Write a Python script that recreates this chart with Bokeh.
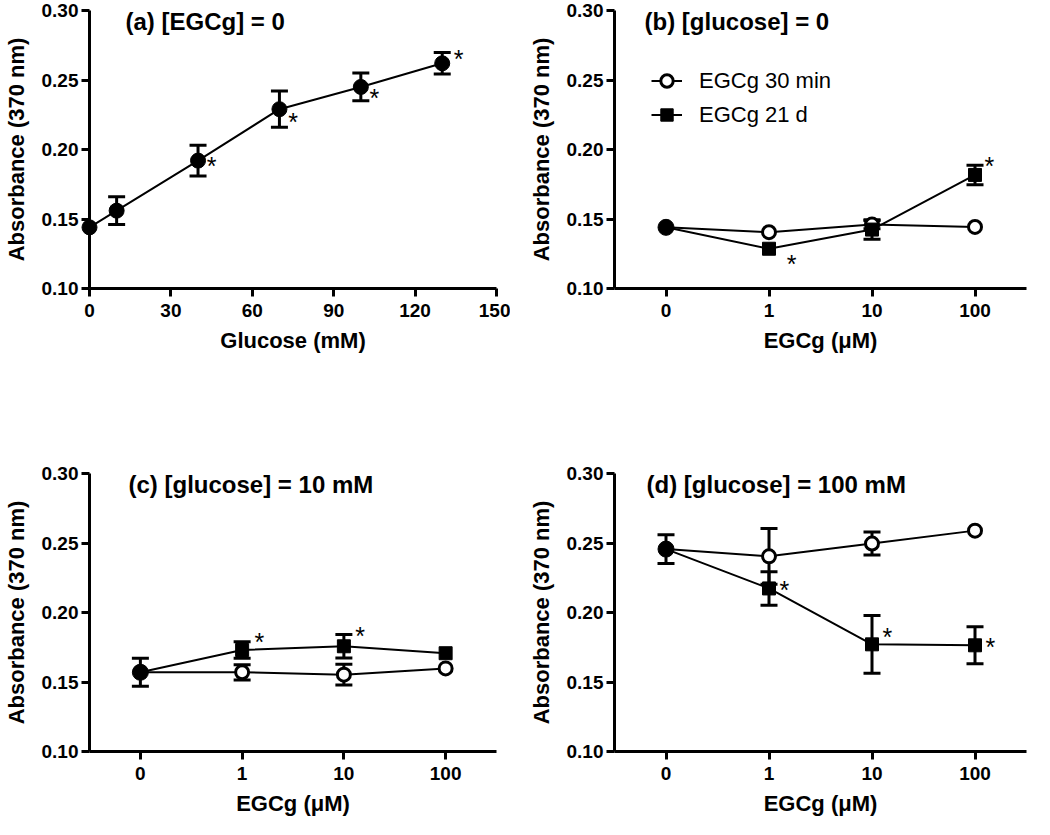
from bokeh.plotting import figure
from bokeh.layouts import column, row
from bokeh.models import (ColumnDataSource, Whisker, TeeHead, FixedTicker, Label,
                          Legend, LegendItem, Range1d, PrintfTickFormatter)
from bokeh.core.properties import value
from bokeh.embed import file_html
from bokeh.resources import INLINE

FONT = "Liberation Sans"

# ---------------- data ----------------
y_ticks = [0.10, 0.15, 0.20, 0.25, 0.30]

# Panel (a): [EGCg] = 0
glucose_mM = [0, 10, 40, 70, 100, 130]
glucose_ticks = [0, 30, 60, 90, 120, 150]
abs_a = [0.144, 0.156, 0.192, 0.229, 0.245, 0.262]
err_a = [0.0, 0.010, 0.011, 0.013, 0.010, 0.0077]
star_a_x = [45, 75, 105, 136]
star_a_y = [0.190, 0.222, 0.239, 0.267]

# EGCg categories (panels b-d)
egcg_labels = ["0", "1", "10", "100"]
egcg_pos = [0, 1, 2, 3]

# Panel (b): [glucose] = 0
b_30min = [0.144, 0.1405, 0.146, 0.1443]
b_30min_err = [0.0, 0.0, 0.003, 0.0]
b_21d = [0.144, 0.1286, 0.1424, 0.1817]
b_21d_err = [0.0, 0.0, 0.007, 0.007]
star_b_x = [1.22, 3.14]
star_b_y = [0.120, 0.190]

# Panel (c): [glucose] = 10 mM
c_30min = [0.157, 0.157, 0.1553, 0.1598]
c_30min_err = [0.010, 0.0055, 0.0075, 0.0]
c_21d = [0.157, 0.173, 0.1757, 0.1707]
c_21d_err = [0.010, 0.006, 0.0085, 0.0]
star_c_x = [1.17, 2.16]
star_c_y = [0.1806, 0.1853]

# Panel (d): [glucose] = 100 mM
d_30min = [0.2456, 0.2404, 0.2496, 0.2589]
d_30min_err = [0.0103, 0.020, 0.0083, 0.0]
d_21d = [0.2456, 0.2173, 0.1771, 0.1764]
d_21d_err = [0.0103, 0.012, 0.0208, 0.0133]
star_d_x = [1.15, 2.15, 3.15]
star_d_y = [0.2184, 0.1842, 0.1771]

titles = ["(a) [EGCg] = 0", "(b) [glucose] = 0",
          "(c) [glucose] = 10 mM", "(d) [glucose] = 100 mM"]
legend_labels = ["EGCg 30 min", "EGCg 21 d"]

TOP = 10
FRAME_H = 278


# ---------------- helpers ----------------
def make_fig(width, height, xr, bl, br, bb, xlabel):
    p = figure(width=width, height=height, x_range=xr, y_range=Range1d(0.10, 0.30),
               output_backend="svg", toolbar_location=None,
               min_border_left=bl, min_border_right=br, min_border_top=TOP,
               min_border_bottom=bb)
    p.outline_line_color = None
    p.xgrid.visible = False
    p.ygrid.visible = False
    p.yaxis.ticker = FixedTicker(ticks=y_ticks)
    p.yaxis.formatter = PrintfTickFormatter(format="%.2f")
    p.yaxis.axis_label = "Absorbance (370 nm)"
    p.xaxis.axis_label = xlabel
    for ax in list(p.xaxis) + list(p.yaxis):
        ax.axis_line_width = 3
        ax.major_tick_line_width = 3
        ax.major_tick_out = 8
        ax.major_tick_in = 0
        ax.minor_tick_line_color = None
        ax.major_label_text_font = FONT
        ax.major_label_text_font_size = "19px"
        ax.major_label_text_font_style = "bold"
        ax.major_label_text_color = "black"
        ax.axis_label_text_font = FONT
        ax.axis_label_text_font_size = "22px"
        ax.axis_label_text_font_style = "bold"
        ax.axis_label_text_color = "black"
    p.yaxis.major_label_standoff = 3
    p.yaxis.axis_label_standoff = 10
    p.xaxis.major_label_standoff = 7
    p.xaxis.axis_label_standoff = 8
    return p


def add_title(p, x0, text, dx):
    lab = Label(x=x0, y=0.30, x_offset=dx, y_offset=-11, text=text,
                text_font=FONT, text_font_size="24px", text_font_style="bold",
                text_baseline="middle", text_color="black")
    lab.level = "overlay"
    p.add_layout(lab)


def add_errors(p, xs, ys, errs):
    idx = [i for i, e in enumerate(errs) if e > 0]
    if not idx:
        return
    src = ColumnDataSource(dict(x=[xs[i] for i in idx],
                                lo=[ys[i] - errs[i] for i in idx],
                                hi=[ys[i] + errs[i] for i in idx]))
    p.add_layout(Whisker(source=src, base="x", lower="lo", upper="hi",
                         line_width=3, line_color="black",
                         upper_head=TeeHead(size=17, line_width=3, line_color="black"),
                         lower_head=TeeHead(size=17, line_width=3, line_color="black")))


def add_stars(p, sx, sy):
    p.text(x=sx, y=sy, text=["*"] * len(sx), text_font=value(FONT),
           text_font_size="25px", text_align="center", text_baseline="middle",
           text_color="black", y_offset=3)


# ---------------- panel (a) ----------------
W_L, W_R = 510, 524
H_T, H_B = 463, 356

pa = make_fig(W_L, H_T, Range1d(0, 150), 84, 14, H_T - TOP - FRAME_H, "Glucose (mM)")
pa.xaxis.ticker = FixedTicker(ticks=glucose_ticks)
add_errors(pa, glucose_mM, abs_a, err_a)
pa.line(glucose_mM, abs_a, line_width=2, line_color="black")
ra = pa.scatter(glucose_mM, abs_a, size=15, marker="circle", fill_color="black",
                line_color="black")
ra.level = "overlay"
add_stars(pa, star_a_x, star_a_y)
add_title(pa, 0, titles[0], 36)


# ---------------- panels (b)-(d) ----------------
def egcg_panel(width, height, bl, br, bb, s30, e30, s21, e21, stx, sty, title, dx,
               legend=False):
    p = make_fig(width, height, Range1d(-0.5, 3.5), bl, br, bb, "EGCg (\u03bcM)")
    p.xaxis.ticker = FixedTicker(ticks=egcg_pos)
    p.xaxis.major_label_overrides = {k: v for k, v in zip(egcg_pos, egcg_labels)}
    # error bars (control drawn once)
    add_errors(p, egcg_pos, s30, e30)
    add_errors(p, egcg_pos[1:], s21[1:], e21[1:])
    l30 = p.line(egcg_pos, s30, line_width=2, line_color="black")
    l21 = p.line(egcg_pos, s21, line_width=2, line_color="black")
    m30 = p.scatter(egcg_pos[1:], s30[1:], size=13, marker="circle", fill_color="white",
                    line_color="black", line_width=3)
    m21 = p.scatter(egcg_pos[1:], s21[1:], size=13, marker="square", fill_color="black",
                    line_color="black")
    mc = p.scatter(egcg_pos[:1], s30[:1], size=16, marker="circle", fill_color="black",
                   line_color="black")
    for r in (m30, m21, mc):
        r.level = "overlay"
    add_stars(p, stx, sty)
    add_title(p, -0.5, title, dx)
    if legend:
        lg = Legend(items=[LegendItem(label=legend_labels[0], renderers=[l30, m30]),
                           LegendItem(label=legend_labels[1], renderers=[l21, m21])],
                    location=(37, 158), padding=0, margin=0, spacing=3,
                    glyph_width=31, glyph_height=31, label_height=31,
                    label_standoff=17, label_text_font=FONT,
                    label_text_font_size="22px", label_text_color="black",
                    border_line_alpha=0, background_fill_alpha=0)
        p.add_layout(lg)
    return p


pb = egcg_panel(W_R, H_T, 104, 8, H_T - TOP - FRAME_H, b_30min, b_30min_err, b_21d,
                b_21d_err, star_b_x, star_b_y, titles[1], 30, legend=True)
pc = egcg_panel(W_L, H_B, 84, 14, H_B - TOP - FRAME_H, c_30min, c_30min_err, c_21d,
                c_21d_err, star_c_x, star_c_y, titles[2], 39)
pd = egcg_panel(W_R, H_B, 104, 8, H_B - TOP - FRAME_H, d_30min, d_30min_err, d_21d,
                d_21d_err, star_d_x, star_d_y, titles[3], 32)

layout = column(row(pa, pb, spacing=0), row(pc, pd, spacing=0), spacing=0)

open("out.html", "w").write(file_html(layout, INLINE))
